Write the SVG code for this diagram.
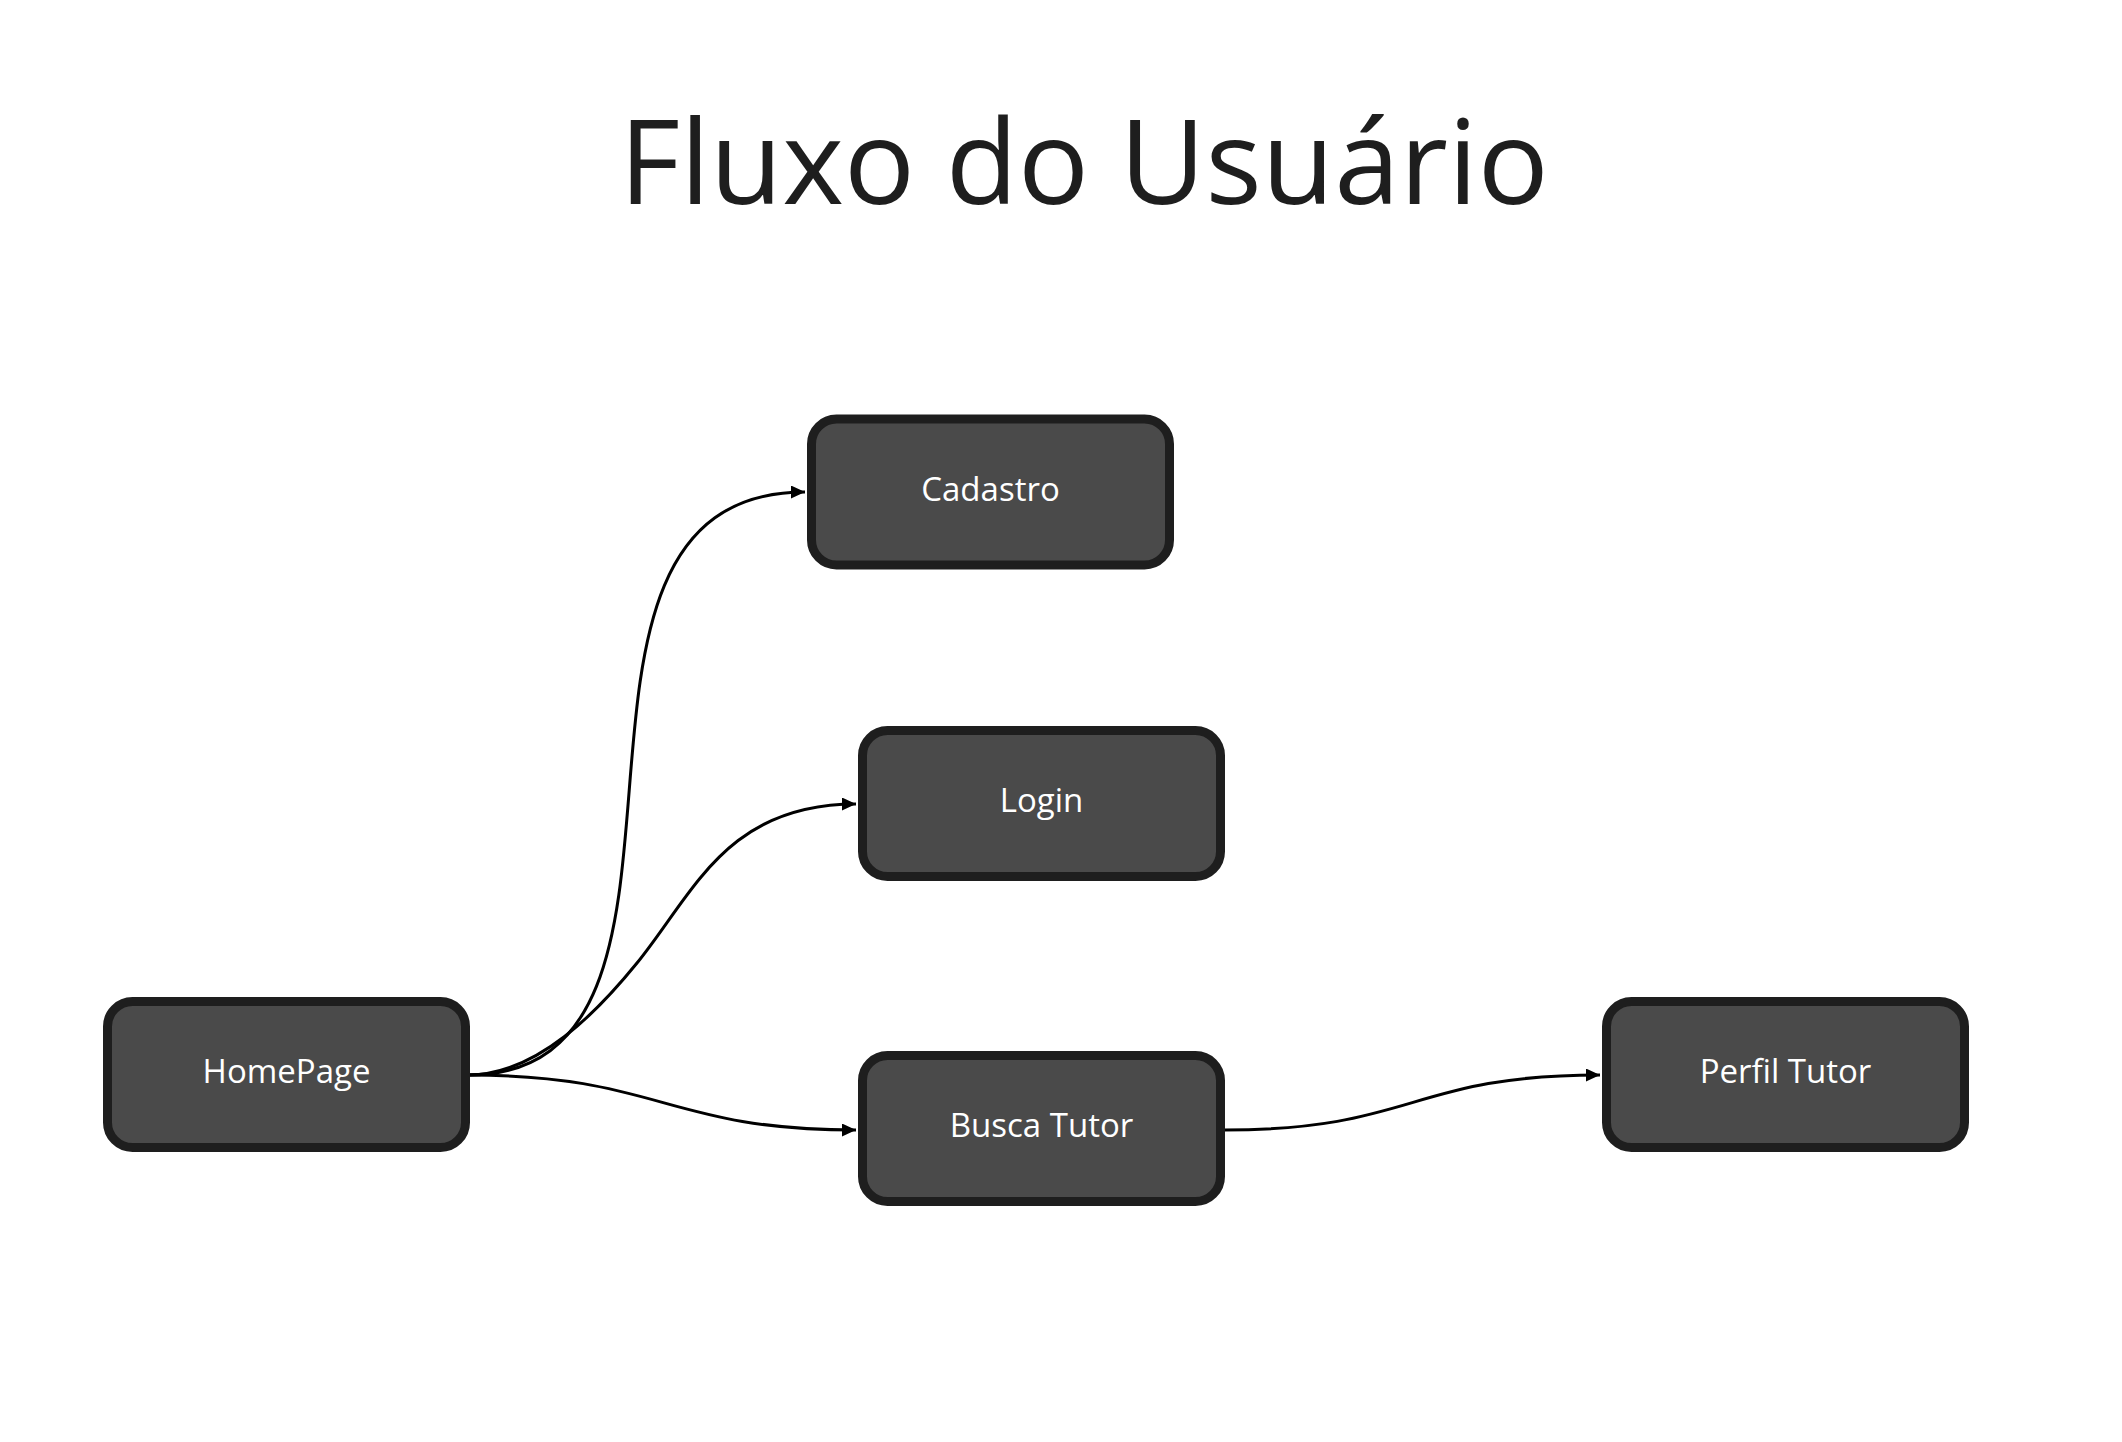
<svg xmlns="http://www.w3.org/2000/svg" width="2122" height="1442" viewBox="0 0 2122 1442">
  <style>
    .title { font-family: "Open Sans", "Noto Sans", "Liberation Sans", sans-serif; font-size: 118px; fill: #1e1e1e; text-anchor: middle; }
    .node rect { fill: #4a4a4a; stroke: #1e1e1e; stroke-width: 9; }
    .node text { font-family: "Open Sans", "Noto Sans", "Liberation Sans", sans-serif; font-size: 33px; fill: #ffffff; text-anchor: middle; }
    .edge { fill: none; stroke: #000000; stroke-width: 3; marker-end: url(#arrow); }
  </style>
  <defs>
    <marker id="arrow" markerUnits="userSpaceOnUse" markerWidth="16" markerHeight="14" refX="14" refY="6.5" orient="auto">
      <path d="M0,0 L14,6.5 L0,13 Z" fill="#000000"/>
    </marker>
  </defs>
  <rect x="0" y="0" width="2122" height="1442" fill="#ffffff"/>
  <text class="title" x="1084" y="204">Fluxo do Usuário</text>

  <g id="connectors">
    <path class="edge" d="M468,1075 C750,1075 505,492 805,492"/>
    <path class="edge" d="M468,1075 C538,1075 599.2,1009.6 637,963 C693.7,893.1 726,804 856,804"/>
    <path class="edge" d="M468,1075 C660,1075 666,1130 856,1130"/>
    <path class="edge" d="M1224,1130 C1416,1130 1410,1075 1600,1075"/>
  </g>

  <g id="node-homepage" class="node">
    <rect x="107.5" y="1001.5" width="358" height="146" rx="25"/>
    <text x="286.5" y="1083">HomePage</text>
  </g>
  <g id="node-cadastro" class="node">
    <rect x="811.5" y="419" width="358" height="146" rx="25"/>
    <text x="990.5" y="500.5">Cadastro</text>
  </g>
  <g id="node-login" class="node">
    <rect x="862.5" y="730.5" width="358" height="146" rx="25"/>
    <text x="1041.5" y="812">Login</text>
  </g>
  <g id="node-busca-tutor" class="node">
    <rect x="862.5" y="1055.5" width="358" height="146" rx="25"/>
    <text x="1041.5" y="1137">Busca Tutor</text>
  </g>
  <g id="node-perfil-tutor" class="node">
    <rect x="1606.5" y="1001.5" width="358" height="146" rx="25"/>
    <text x="1785.5" y="1083">Perfil Tutor</text>
  </g>
</svg>
